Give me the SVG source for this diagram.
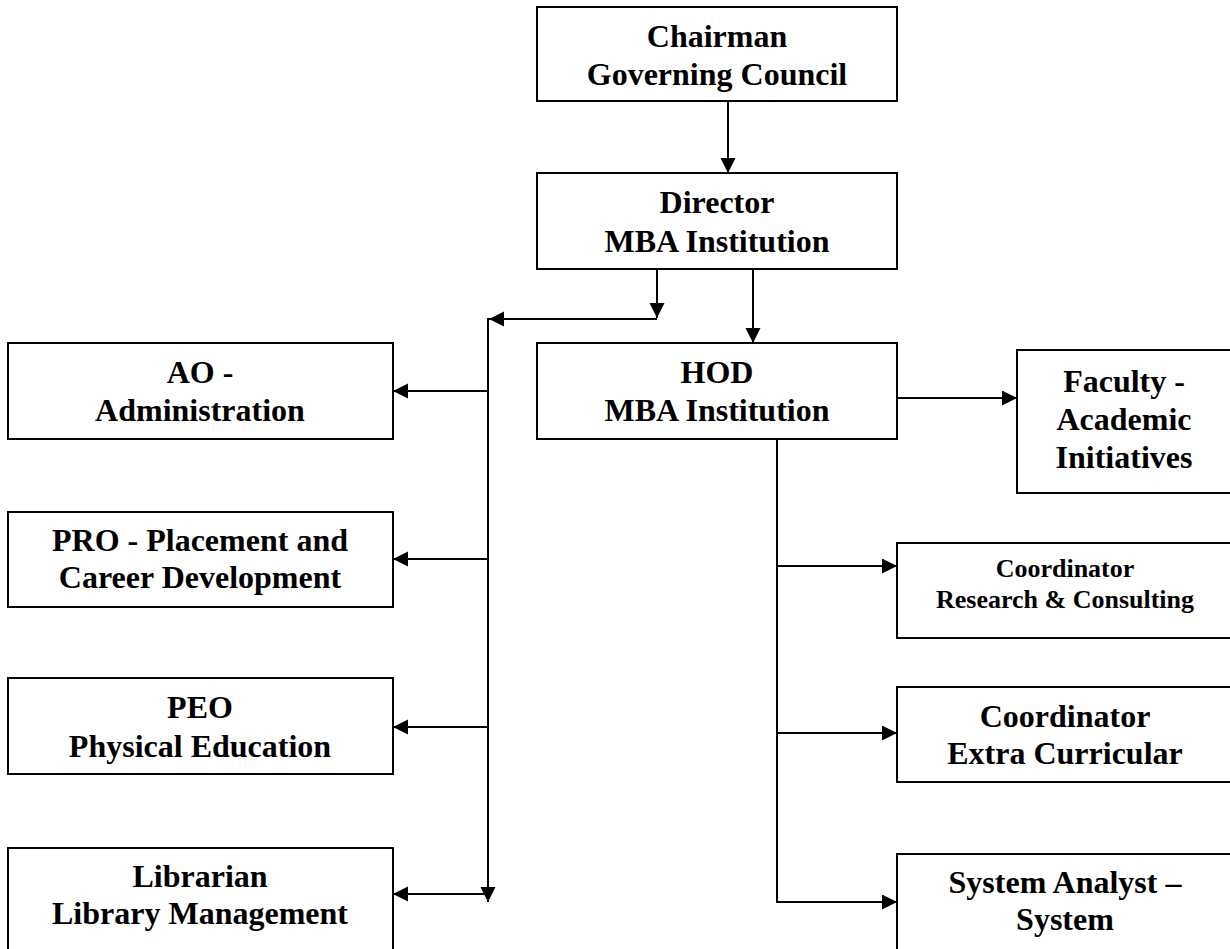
<svg xmlns="http://www.w3.org/2000/svg" width="1230" height="949" viewBox="0 0 1230 949">
<style>
rect{fill:#fff;stroke:#000;stroke-width:2}
text{font-family:"Liberation Serif","Times New Roman",serif;font-weight:bold;font-size:32px;text-anchor:middle;fill:#000}
text.s{font-size:26px}
.c path,.c line{stroke:#000;stroke-width:2;fill:none}
</style>
<defs>
<marker id="a" markerUnits="userSpaceOnUse" markerWidth="16" markerHeight="16" refX="15" refY="7.5" orient="auto"><path d="M0,0 L15,7.5 L0,15 z" fill="#000"/></marker>
</defs>
<rect width="1230" height="949" style="stroke:none"/>
<g class="c" id="connectors">
<line x1="728" y1="101" x2="728" y2="173" marker-end="url(#a)"/>
<line x1="657" y1="269" x2="657" y2="318" marker-end="url(#a)"/>
<line x1="657" y1="319" x2="489" y2="319" marker-end="url(#a)"/>
<line x1="488" y1="318" x2="488" y2="902" marker-end="url(#a)"/>
<line x1="753" y1="269" x2="753" y2="343" marker-end="url(#a)"/>
<line x1="488" y1="391" x2="393" y2="391" marker-end="url(#a)"/>
<line x1="488" y1="559" x2="393" y2="559" marker-end="url(#a)"/>
<line x1="488" y1="727" x2="393" y2="727" marker-end="url(#a)"/>
<line x1="488" y1="894" x2="393" y2="894" marker-end="url(#a)"/>
<line x1="897" y1="398" x2="1017" y2="398" marker-end="url(#a)"/>
<line x1="777" y1="439" x2="777" y2="903"/>
<line x1="776" y1="566" x2="897" y2="566" marker-end="url(#a)"/>
<line x1="776" y1="733" x2="897" y2="733" marker-end="url(#a)"/>
<line x1="776" y1="902" x2="897" y2="902" marker-end="url(#a)"/>
</g>
<g id="chairman"><rect x="537" y="7" width="360" height="94"/><text x="717" y="47">Chairman</text><text x="717" y="85">Governing Council</text></g>
<g id="director"><rect x="537" y="173" width="360" height="96"/><text x="717" y="213">Director</text><text x="717" y="252">MBA Institution</text></g>
<g id="hod"><rect x="537" y="343" width="360" height="96"/><text x="717" y="383">HOD</text><text x="717" y="421">MBA Institution</text></g>
<g id="ao"><rect x="8" y="343" width="385" height="96"/><text x="200" y="383">AO -</text><text x="200" y="421">Administration</text></g>
<g id="pro"><rect x="8" y="512" width="385" height="95"/><text x="200" y="551">PRO - Placement and</text><text x="200" y="588">Career Development</text></g>
<g id="peo"><rect x="8" y="678" width="385" height="96"/><text x="200" y="718">PEO</text><text x="200" y="757">Physical Education</text></g>
<g id="librarian"><rect x="8" y="848" width="385" height="120"/><text x="200" y="887">Librarian</text><text x="200" y="924">Library Management</text></g>
<g id="faculty"><rect x="1017" y="350" width="214" height="143"/><text x="1124" y="392">Faculty -</text><text x="1124" y="430">Academic</text><text x="1124" y="468">Initiatives</text></g>
<g id="research"><rect x="897" y="543" width="336" height="95"/><text class="s" x="1065" y="577">Coordinator</text><text class="s" x="1065" y="608">Research &amp; Consulting</text></g>
<g id="extra"><rect x="897" y="687" width="336" height="95"/><text x="1065" y="727">Coordinator</text><text x="1065" y="764">Extra Curricular</text></g>
<g id="system"><rect x="897" y="854" width="336" height="120"/><text x="1065" y="893">System Analyst –</text><text x="1065" y="930">System</text></g>
</svg>
